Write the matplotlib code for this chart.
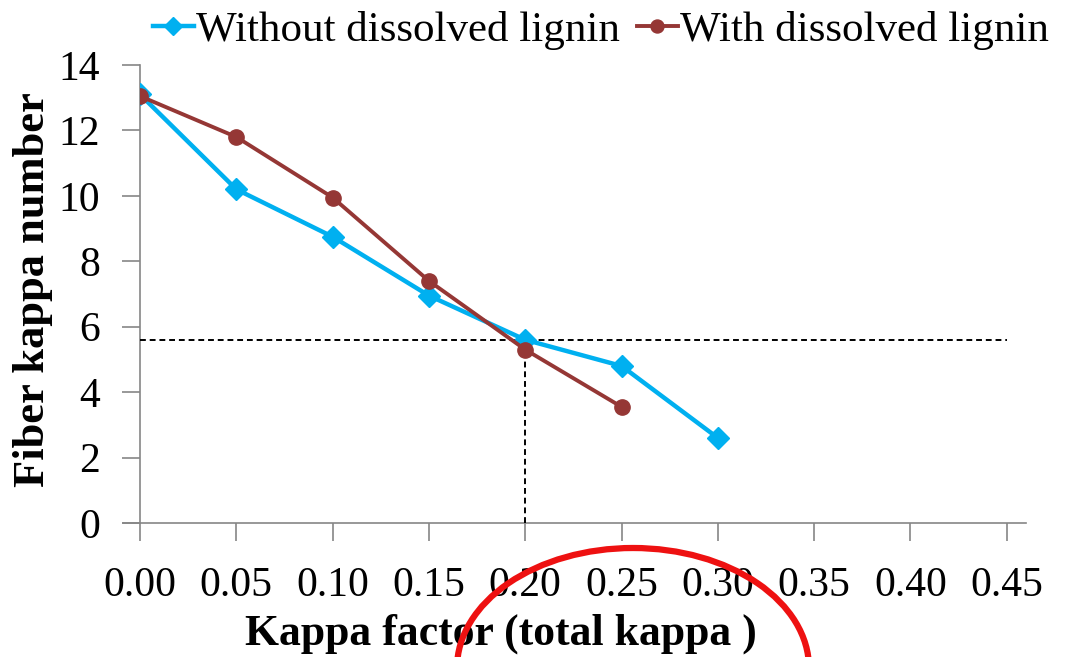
import matplotlib.pyplot as plt
from matplotlib.patches import Ellipse

# ======= data =======
kappa_factor = [0.00, 0.05, 0.10, 0.15, 0.20, 0.25, 0.30]
fiber_without = [13.1, 10.2, 8.75, 6.95, 5.6, 4.8, 2.6]
kappa_factor_with = [0.00, 0.05, 0.10, 0.15, 0.20, 0.25]
fiber_with = [13.05, 11.8, 9.95, 7.4, 5.3, 3.55]

target_kappa = 5.6      # dashed guide level
target_factor = 0.20

x_ticks = [0.00, 0.05, 0.10, 0.15, 0.20, 0.25, 0.30, 0.35, 0.40, 0.45]
y_ticks = [0, 2, 4, 6, 8, 10, 12, 14]

blue = '#00B0F0'
red = '#953735'
grey = '#868686'

plt.rcParams['font.family'] = ['Liberation Serif', 'DejaVu Serif']

fig = plt.figure(figsize=(10.74, 6.57), dpi=100)
ax = fig.add_axes([0.1304, 0.204, 0.8249, 0.697])

# ======= lines =======
ax.plot(kappa_factor, fiber_without, color=blue, lw=3.2, marker='D', ms=11,
        label='Without dissolved lignin', zorder=4)
ax.plot(kappa_factor_with, fiber_with, color=red, lw=2.8, marker='o', ms=11,
        label='With dissolved lignin', zorder=5)

# dashed guides
ax.plot([0, 0.45], [target_kappa, target_kappa], color='black', lw=1.4,
        ls=(0, (3, 2)), zorder=3)
ax.plot([target_factor, target_factor], [0, target_kappa], color='black',
        lw=1.4, ls=(0, (3, 2)), zorder=3)

# ======= axes =======
ax.set_xlim(0, 0.46)
ax.set_ylim(0, 14)
ax.set_xticks(x_ticks)
ax.set_xticklabels([f'{v:.2f}' for v in x_ticks])
ax.set_yticks(y_ticks)
ax.spines['top'].set_visible(False)
ax.spines['right'].set_visible(False)
for s in ['left', 'bottom']:
    ax.spines[s].set_color(grey)
    ax.spines[s].set_linewidth(1.2)
ax.spines['bottom'].set_bounds(-0.009, 0.46)
ax.tick_params(axis='both', direction='out', length=13, width=1.2,
               color=grey, labelsize=30)
ax.tick_params(axis='x', pad=18)
ax.tick_params(axis='y', pad=16)

ax.set_xlabel('Kappa factor (total kappa )', fontsize=31.5, fontweight='bold')
ax.xaxis.set_label_coords(0.407, -0.197)
ax.set_ylabel('Fiber kappa number', fontsize=32, fontweight='bold')
ax.yaxis.set_label_coords(-0.098, 0.509)

# ======= legend =======
ax.legend(loc='lower left', bbox_to_anchor=(-0.005, 0.995), ncol=2,
          frameon=False, fontsize=31, handlelength=0.95, handletextpad=0.05,
          columnspacing=0.4, borderaxespad=0.0, markerscale=0.85)

# ======= red annotation ellipse =======
circle = Ellipse((633 / 1074, 1 - 668 / 657), 352 / 1074, 240 / 657,
                 transform=fig.transFigure, fill=False, edgecolor='#EE1111',
                 lw=4.5, clip_on=False, zorder=10)
fig.add_artist(circle)

fig.savefig('out.png', dpi=100)
